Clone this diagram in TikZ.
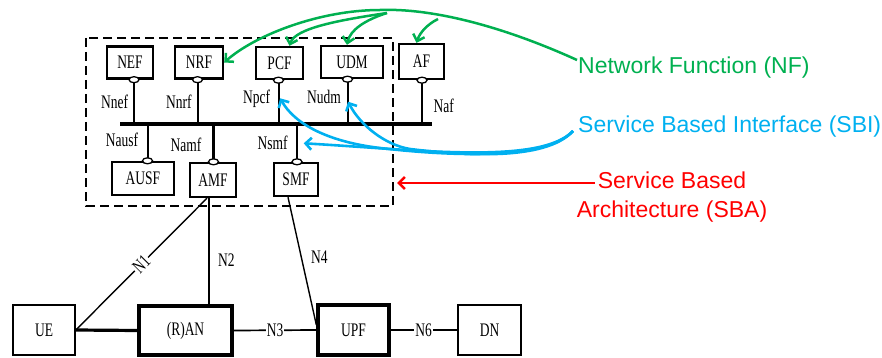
\documentclass[tikz,border=0pt]{standalone}
\usepackage{fontspec}
\setmainfont{Liberation Serif}
\newfontfamily\calloutfont{Liberation Sans}
\usetikzlibrary{arrows.meta,shapes.geometric}
\definecolor{nfgreen}{RGB}{0,176,80}
\definecolor{sbiblue}{RGB}{0,176,240}
\definecolor{sbared}{RGB}{255,0,0}
% tall serif lettering used for all function and interface names
\newcommand\tallText[1]{\scalebox{1}[1.42]{#1}}
\begin{document}
\begin{tikzpicture}[x=1pt,y=-1pt,
  nfbox/.style={draw, line width=2.4pt, minimum width=#1, minimum height=32pt,
    inner sep=0pt, font=\fontsize{13.5}{16}\selectfont},
  nfbox/.default=46pt,
  port/.style={draw, ellipse, fill=white, line width=1.3pt,
    minimum width=10pt, minimum height=6pt, inner sep=0pt},
  stub/.style={line width=2pt},
  lbl/.style={inner sep=0pt, font=\fontsize{13.5}{16}\selectfont},
  onlbl/.style={lbl, fill=white, inner sep=1pt},
  callout/.style={font=\calloutfont\fontsize{23}{29}\selectfont, inner sep=0pt},
  tip/.style={-{Straight Barb[length=6pt,width=12pt]}},
  sbabox/.style={line width=2.8pt, dash pattern=on 9pt off 5pt}
]
\useasboundingbox (0,0) rectangle (882,358);

% service based architecture boundary
\coordinate (sbaNW) at (86,38);
\coordinate (sbaSE) at (393,206);
\draw[sbabox] (sbaNW) rectangle (sbaSE);

% network functions
\node[nfbox=46pt] (NEF) at (130,62.5) {\tallText{NEF}};
\node[nfbox=48pt] (NRF) at (199,62.5) {\tallText{NRF}};
\node[nfbox=47pt] (PCF) at (279.5,63) {\tallText{PCF}};
\node[nfbox=62pt] (UDM) at (352,62) {\tallText{UDM}};
\node[nfbox=45pt, minimum height=35pt] (AF) at (421.5,61.5) {\tallText{AF}};
\node[nfbox=62pt, minimum height=33pt] (AUSF) at (143,178.5) {\tallText{AUSF}};
\node[nfbox=46pt, minimum height=34pt] (AMF) at (213,180) {\tallText{AMF}};
\node[nfbox=44pt, minimum height=33pt] (SMF) at (296,179.5) {\tallText{SMF}};

% service bus
\coordinate (busW) at (120,124);
\coordinate (busE) at (432,124);
\draw[line width=3.4pt] (busW) -- (busE);

% service interfaces of the upper functions
\foreach \n/\dx in {NEF/4, NRF/-1.5, PCF/-1, UDM/-4.5, AF/0.5} {
  \coordinate (s\n) at ([xshift=\dx pt]\n.south);
  \draw[stub] (s\n) -- (s\n |- busW);
  \node[port] (o\n) at (s\n) {};
}
% service interfaces of the lower functions
\foreach \n/\dx/\w in {AUSF/4.5/2, AMF/0.5/3.2, SMF/1/2} {
  \coordinate (s\n) at ([xshift=\dx pt]\n.north);
  \draw[line width=\w pt] (s\n) -- (s\n |- busW);
  \node[port] (o\n) at (s\n) {};
}

% interface names
\node[lbl] (lNnef)  at (114.5,102) {\tallText{Nnef}};
\node[lbl] (lNnrf)  at (178.8,102) {\tallText{Nnrf}};
\node[lbl] (lNpcf)  at (256.5,98.3) {\tallText{Npcf}};
\node[lbl] (lNudm)  at (324,96.7) {\tallText{Nudm}};
\node[lbl] (lNaf)   at (443.7,106) {\tallText{Naf}};
\node[lbl] (lNausf) at (122,140) {\tallText{Nausf}};
\node[lbl] (lNamf)  at (186,145) {\tallText{Namf}};
\node[lbl] (lNsmf)  at (272.5,143.3) {\tallText{Nsmf}};

% access and user plane
\node[nfbox=62pt, minimum height=50pt, line width=1.7pt] (UE)  at (44,330) {\tallText{UE}};
\node[nfbox=93pt, minimum height=49pt, line width=3.3pt] (RAN) at (185.5,330.5) {\tallText{(R)AN}};
\node[nfbox=71pt, minimum height=50pt, line width=3.3pt] (UPF) at (353.5,330) {\tallText{UPF}};
\node[nfbox=63pt, minimum height=50pt, line width=2.9pt] (DN)  at (489.5,330) {\tallText{DN}};

% reference points
\draw[line width=3.2pt] (UE.east) -- (RAN.west);
\draw[line width=1.4pt] ([xshift=-6pt]AMF.south) -- node[onlbl, sloped] {\tallText{N1}} (UE.east);
\coordinate (n2top) at ([xshift=-4pt]AMF.south);
\draw[line width=2.3pt] (n2top) -- node[lbl, pos=0.58, right=8pt] {\tallText{N2}} (n2top |- RAN.north);
\draw[line width=1.7pt] (RAN.east) -- node[onlbl] {\tallText{N3}} (UPF.west);
\draw[line width=1.4pt] ([xshift=-8pt]SMF.south) -- node[lbl, pos=0.47, right=9pt] {\tallText{N4}} ([yshift=5pt]UPF.west);
\draw[line width=1.4pt] (UPF.east) -- node[onlbl] {\tallText{N6}} (DN.west);

% call-outs
\node[callout, text=nfgreen, anchor=west] (nfTxt) at (578,68) {Network Function (NF)};
\node[callout, text=sbiblue, anchor=west] (sbiTxt) at (578,127) {Service Based Interface (SBI)};
\node[callout, text=sbared, align=center] (sbaTxt) at (672,197.5) {Service Based\\Architecture (SBA)};

% network function arrows
\coordinate (nfStart) at (577,60);
\coordinate (nfHub) at (387,13);
\coordinate (nfAFfork) at (438,19);
\draw[nfgreen, line width=2.5pt, tip] (nfStart) .. controls (500,25) and (430,8) .. (380,10)
  .. controls (320,10) and (255,35) .. (NRF.east);
\draw[nfgreen, line width=2.5pt, tip] (nfAFfork) .. controls (428,24) and (420,32) .. ([xshift=-5pt]AF.north);
\draw[nfgreen, line width=2.5pt, tip] (nfHub) .. controls (365,20) and (350,30) .. ([xshift=-5pt]UDM.north);
\draw[nfgreen, line width=2.5pt, tip] (nfHub) .. controls (340,20) and (295,28) .. ([xshift=10pt]PCF.north);

% service based interface arrows
\coordinate (sbiStart) at (573,131);
\draw[sbiblue, line width=2.6pt, tip] (sbiStart) .. controls (540,165) and (420,150) .. ([xshift=16pt]lNsmf.east);
\draw[sbiblue, line width=2.6pt, tip] (sbiStart) .. controls (545,162) and (440,155) .. (380,148)
  .. controls (330,142) and (295,125) .. ([xshift=10pt]lNpcf.east);
\draw[sbiblue, line width=2.6pt, tip] (sbiStart) .. controls (545,162) and (460,155) .. (410,149)
  .. controls (385,145) and (360,125) .. ([xshift=7pt,yshift=-5pt]lNudm.east);

% service based architecture arrow
\coordinate (sbaTail) at (595,183);
\coordinate (sbaEdge) at (397,183);
\draw[sbared, line width=2.6pt, tip] (sbaTail) -- (sbaEdge);
\end{tikzpicture}
\end{document}
